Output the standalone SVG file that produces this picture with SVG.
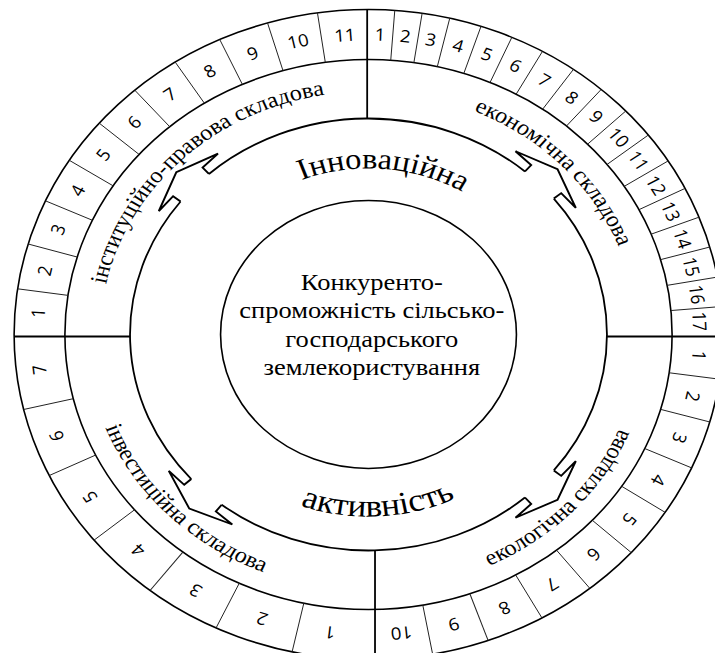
<svg xmlns="http://www.w3.org/2000/svg" width="715" height="653" viewBox="0 0 715 653">
<defs>
<style>
.ln{fill:none;stroke:#000;stroke-width:1.6;vector-effect:non-scaling-stroke}
.dv{fill:none;stroke:#000;stroke-width:1.8;vector-effect:non-scaling-stroke}
.thin{fill:none;stroke:#222;stroke-width:1;vector-effect:non-scaling-stroke}
.arr{fill:none;stroke:#000;stroke-width:1.8;stroke-linejoin:miter;vector-effect:non-scaling-stroke}
.n{font-family:"Open Sans","Liberation Sans",sans-serif;font-size:17px;fill:#000;text-anchor:middle}
.lbl{font-family:"Liberation Serif","Times New Roman",serif;font-size:22px;fill:#000;text-anchor:middle}
.big{font-family:"Liberation Serif","Times New Roman",serif;font-size:29.5px;fill:#000;text-anchor:middle}
.ctr{font-family:"Liberation Serif","Times New Roman",serif;font-size:24px;fill:#000;text-anchor:middle}
</style>
<clipPath id="oc"><ellipse cx="0" cy="0" rx="321" ry="325"/></clipPath>
<path id="cw243" d="M0,-243A243,243 0 1 1 0,243A243,243 0 1 1 0,-243"/>
<path id="ccw256" d="M0,-256A256,256 0 1 0 0,256A256,256 0 1 0 0,-256"/>
<path id="cw166" d="M0,-166A166,166 0 1 1 0,166A166,166 0 1 1 0,-166"/>
<path id="ccw182" d="M0,-182A182,182 0 1 0 0,182A182,182 0 1 0 0,-182"/>
<path id="zig" d="M215.18,18.83L223.75,19.58L223.06,39.33L238,0L223.06,-39.33L223.75,-19.58L215.18,-18.83"/>
</defs>
<rect width="715" height="653" fill="#fff"/>
<g transform="translate(368.5,334.5) scale(1.104,1)">
  <g id="rings">
    <ellipse class="ln" cx="0" cy="0" rx="321" ry="325"/>
    <circle class="ln" cx="0" cy="0" r="275"/>
  </g>
  <g id="cells" clip-path="url(#oc)">
    <g id="dividers">
      <line class="dv" x1="-1.2" y1="-216" x2="-1.2" y2="-335"/>
      <line class="dv" x1="5.9" y1="216" x2="5.9" y2="340"/>
      <line class="dv" x1="-216" y1="2" x2="-335" y2="2"/>
      <line class="dv" x1="216" y1="2" x2="335" y2="2"/>
    </g>
    <g id="cell-lines-tl">
      <line class="thin" x1="0" y1="-275" x2="0" y2="-340" transform="rotate(-81.82)"/>
      <line class="thin" x1="0" y1="-275" x2="0" y2="-340" transform="rotate(-73.64)"/>
      <line class="thin" x1="0" y1="-275" x2="0" y2="-340" transform="rotate(-65.45)"/>
      <line class="thin" x1="0" y1="-275" x2="0" y2="-340" transform="rotate(-57.27)"/>
      <line class="thin" x1="0" y1="-275" x2="0" y2="-340" transform="rotate(-49.09)"/>
      <line class="thin" x1="0" y1="-275" x2="0" y2="-340" transform="rotate(-40.91)"/>
      <line class="thin" x1="0" y1="-275" x2="0" y2="-340" transform="rotate(-32.73)"/>
      <line class="thin" x1="0" y1="-275" x2="0" y2="-340" transform="rotate(-24.55)"/>
      <line class="thin" x1="0" y1="-275" x2="0" y2="-340" transform="rotate(-16.36)"/>
      <line class="thin" x1="0" y1="-275" x2="0" y2="-340" transform="rotate(-8.18)"/>
    </g>
    <g id="cell-lines-tr">
      <line class="thin" x1="0" y1="-275" x2="0" y2="-340" transform="rotate(4.2)"/>
      <line class="thin" x1="0" y1="-275" x2="0" y2="-340" transform="rotate(8.6)"/>
      <line class="thin" x1="0" y1="-275" x2="0" y2="-340" transform="rotate(13.1)"/>
      <line class="thin" x1="0" y1="-275" x2="0" y2="-340" transform="rotate(18.3)"/>
      <line class="thin" x1="0" y1="-275" x2="0" y2="-340" transform="rotate(23.6)"/>
      <line class="thin" x1="0" y1="-275" x2="0" y2="-340" transform="rotate(29.1)"/>
      <line class="thin" x1="0" y1="-275" x2="0" y2="-340" transform="rotate(35)"/>
      <line class="thin" x1="0" y1="-275" x2="0" y2="-340" transform="rotate(40.7)"/>
      <line class="thin" x1="0" y1="-275" x2="0" y2="-340" transform="rotate(46.2)"/>
      <line class="thin" x1="0" y1="-275" x2="0" y2="-340" transform="rotate(51.8)"/>
      <line class="thin" x1="0" y1="-275" x2="0" y2="-340" transform="rotate(57.4)"/>
      <line class="thin" x1="0" y1="-275" x2="0" y2="-340" transform="rotate(63)"/>
      <line class="thin" x1="0" y1="-275" x2="0" y2="-340" transform="rotate(68.6)"/>
      <line class="thin" x1="0" y1="-275" x2="0" y2="-340" transform="rotate(74.2)"/>
      <line class="thin" x1="0" y1="-275" x2="0" y2="-340" transform="rotate(79.7)"/>
      <line class="thin" x1="0" y1="-275" x2="0" y2="-340" transform="rotate(85)"/>
    </g>
    <g id="cell-lines-br">
      <line class="thin" x1="0" y1="-275" x2="0" y2="-340" transform="rotate(98)"/>
      <line class="thin" x1="0" y1="-275" x2="0" y2="-340" transform="rotate(105.8)"/>
      <line class="thin" x1="0" y1="-275" x2="0" y2="-340" transform="rotate(114.5)"/>
      <line class="thin" x1="0" y1="-275" x2="0" y2="-340" transform="rotate(123.5)"/>
      <line class="thin" x1="0" y1="-275" x2="0" y2="-340" transform="rotate(132.5)"/>
      <line class="thin" x1="0" y1="-275" x2="0" y2="-340" transform="rotate(141.7)"/>
      <line class="thin" x1="0" y1="-275" x2="0" y2="-340" transform="rotate(151)"/>
      <line class="thin" x1="0" y1="-275" x2="0" y2="-340" transform="rotate(160.5)"/>
      <line class="thin" x1="0" y1="-275" x2="0" y2="-340" transform="rotate(169.7)"/>
    </g>
    <g id="cell-lines-bl">
      <line class="thin" x1="0" y1="-275" x2="0" y2="-340" transform="rotate(192.3)"/>
      <line class="thin" x1="0" y1="-275" x2="0" y2="-340" transform="rotate(205.2)"/>
      <line class="thin" x1="0" y1="-275" x2="0" y2="-340" transform="rotate(217.7)"/>
      <line class="thin" x1="0" y1="-275" x2="0" y2="-340" transform="rotate(230.4)"/>
      <line class="thin" x1="0" y1="-275" x2="0" y2="-340" transform="rotate(244)"/>
      <line class="thin" x1="0" y1="-275" x2="0" y2="-340" transform="rotate(256.5)"/>
    </g>
  </g>
  <g id="numbers-tl">
    <text class="n" transform="rotate(-85.91) translate(0,-300)" dy="6">1</text>
    <text class="n" transform="rotate(-77.73) translate(0,-300)" dy="6">2</text>
    <text class="n" transform="rotate(-69.55) translate(0,-300)" dy="6">3</text>
    <text class="n" transform="rotate(-61.36) translate(0,-300)" dy="6">4</text>
    <text class="n" transform="rotate(-53.18) translate(0,-300)" dy="6">5</text>
    <text class="n" transform="rotate(-45) translate(0,-300)" dy="6">6</text>
    <text class="n" transform="rotate(-36.82) translate(0,-300)" dy="6">7</text>
    <text class="n" transform="rotate(-28.64) translate(0,-300)" dy="6">8</text>
    <text class="n" transform="rotate(-20.45) translate(0,-300)" dy="6">9</text>
    <text class="n" transform="rotate(-12.27) translate(0,-300)" dy="6">10</text>
    <text class="n" transform="rotate(-4.09) translate(0,-300)" dy="6">11</text>
  </g>
  <g id="numbers-tr">
    <text class="n" transform="rotate(2) translate(0,-300)" dy="6">1</text>
    <text class="n" transform="rotate(6.4) translate(0,-300)" dy="6">2</text>
    <text class="n" transform="rotate(10.85) translate(0,-300)" dy="6">3</text>
    <text class="n" transform="rotate(15.7) translate(0,-300)" dy="6">4</text>
    <text class="n" transform="rotate(20.95) translate(0,-300)" dy="6">5</text>
    <text class="n" transform="rotate(26.35) translate(0,-300)" dy="6">6</text>
    <text class="n" transform="rotate(32.05) translate(0,-300)" dy="6">7</text>
    <text class="n" transform="rotate(37.85) translate(0,-300)" dy="6">8</text>
    <text class="n" transform="rotate(43.45) translate(0,-300)" dy="6">9</text>
    <text class="n" transform="rotate(49) translate(0,-300)" dy="6">10</text>
    <text class="n" transform="rotate(54.6) translate(0,-300)" dy="6">11</text>
    <text class="n" transform="rotate(60.2) translate(0,-300)" dy="6">12</text>
    <text class="n" transform="rotate(65.8) translate(0,-300)" dy="6">13</text>
    <text class="n" transform="rotate(71.4) translate(0,-300)" dy="6">14</text>
    <text class="n" transform="rotate(76.95) translate(0,-300)" dy="6">15</text>
    <text class="n" transform="rotate(82.35) translate(0,-300)" dy="6">16</text>
    <text class="n" transform="rotate(87.5) translate(0,-300)" dy="6">17</text>
  </g>
  <g id="numbers-br">
    <text class="n" transform="rotate(94) translate(0,-300)" dy="6">1</text>
    <text class="n" transform="rotate(101.9) translate(0,-300)" dy="6">2</text>
    <text class="n" transform="rotate(110.15) translate(0,-300)" dy="6">3</text>
    <text class="n" transform="rotate(119) translate(0,-300)" dy="6">4</text>
    <text class="n" transform="rotate(128) translate(0,-300)" dy="6">5</text>
    <text class="n" transform="rotate(137.1) translate(0,-300)" dy="6">6</text>
    <text class="n" transform="rotate(146.35) translate(0,-300)" dy="6">7</text>
    <text class="n" transform="rotate(155.75) translate(0,-300)" dy="6">8</text>
    <text class="n" transform="rotate(165.1) translate(0,-300)" dy="6">9</text>
    <text class="n" transform="rotate(174.3) translate(0,-300)" dy="6">10</text>
  </g>
  <g id="numbers-bl">
    <text class="n" transform="rotate(186.7) translate(0,-300)" dy="6">1</text>
    <text class="n" transform="rotate(198.75) translate(0,-300)" dy="6">2</text>
    <text class="n" transform="rotate(211.45) translate(0,-300)" dy="6">3</text>
    <text class="n" transform="rotate(224.05) translate(0,-300)" dy="6">4</text>
    <text class="n" transform="rotate(237.2) translate(0,-300)" dy="6">5</text>
    <text class="n" transform="rotate(250.25) translate(0,-300)" dy="6">6</text>
    <text class="n" transform="rotate(263.25) translate(0,-300)" dy="6">7</text>
  </g>
  <g id="label-institutional">
    <text class="lbl" transform="rotate(136.25)"><textPath href="#cw243" startOffset="50%">інституційно-правова складова</textPath></text>
  </g>
  <g id="label-economic">
    <text class="lbl" transform="rotate(225.95)"><textPath href="#cw243" startOffset="50%">економічна складова</textPath></text>
  </g>
  <g id="label-investment">
    <text class="lbl" transform="rotate(45.25)"><textPath href="#ccw256" startOffset="50%">інвестиційна складова</textPath></text>
  </g>
  <g id="label-ecological">
    <text class="lbl" transform="rotate(-46.4)"><textPath href="#ccw256" startOffset="50%">екологічна складова</textPath></text>
  </g>
  <g id="connectors">
    <path class="arr" d="M-144.53,-160.52A216,216 0 0 1 141.71,-163.02"/>
    <path class="arr" d="M167.86,-135.93A216,216 0 0 1 167.86,135.93"/>
    <path class="arr" d="M141.71,163.02A216,216 0 0 1 -132.98,170.21"/>
    <path class="arr" d="M-160.52,144.53A216,216 0 0 1 -170.21,-132.98"/>
    <use href="#zig" class="arr" transform="rotate(133)"/>
    <use href="#zig" class="arr" transform="rotate(223)"/>
    <use href="#zig" class="arr" transform="rotate(316)"/>
    <use href="#zig" class="arr" transform="rotate(44)"/>
  </g>
  <g id="label-innovation">
    <text class="big" transform="rotate(184.7)"><textPath href="#cw166" startOffset="50%">Інноваційна</textPath></text>
  </g>
  <g id="label-activity">
    <text class="big" style="font-size:32px" transform="rotate(-2.9)"><textPath href="#ccw182" startOffset="50%">активність</textPath></text>
  </g>
  <g id="center">
    <circle class="ln" cx="0" cy="0" r="134"/>
    <text class="ctr" x="3" y="-44.5">Конкуренто-</text>
    <text class="ctr" x="3" y="-16.5">спроможність сільсько-</text>
    <text class="ctr" x="3" y="12.5">господарського</text>
    <text class="ctr" x="3" y="40.5">землекористування</text>
  </g>
</g>
</svg>
